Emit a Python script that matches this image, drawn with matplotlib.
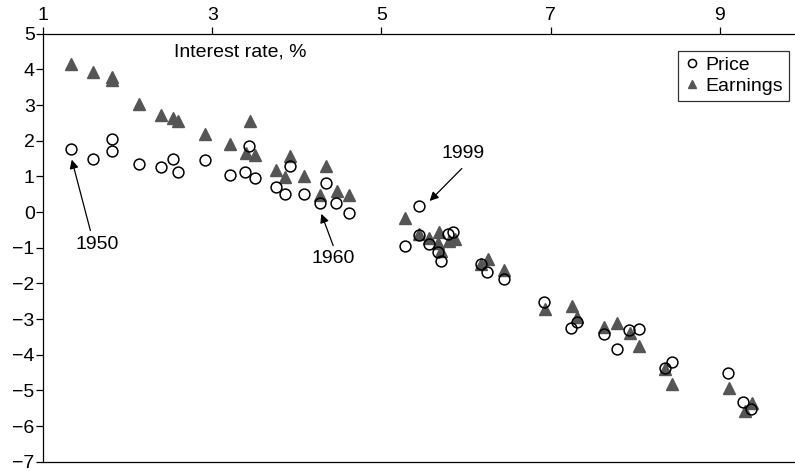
import numpy as np
import matplotlib.pyplot as plt

plt.rcParams['font.family'] = ['Liberation Sans', 'DejaVu Sans']

# interest rate (%) and price / earnings values
price_rate = [1.33, 1.59, 1.82, 1.81, 2.13, 2.40, 2.54, 2.59, 2.91, 3.21, 3.39,
              3.44, 3.50, 3.75, 3.86, 3.92, 4.09, 4.28, 4.35, 4.46, 4.62,
              5.45, 5.28, 5.44, 5.56, 5.67, 5.70, 5.79, 5.85, 6.18, 6.25, 6.45,
              6.92, 7.31, 7.24, 7.63, 7.78, 7.93, 8.05, 8.35, 8.43, 9.10, 9.28, 9.37]
price = [1.78, 1.49, 2.04, 1.72, 1.35, 1.26, 1.49, 1.13, 1.46, 1.04, 1.12,
         1.86, 0.95, 0.71, 0.50, 1.29, 0.52, 0.24, 0.81, 0.26, -0.02,
         0.17, -0.96, -0.64, -0.89, -1.12, -1.38, -0.61, -0.55, -1.45, -1.67, -1.87,
         -2.53, -3.07, -3.24, -3.41, -3.84, -3.31, -3.27, -4.37, -4.21, -4.51, -5.32, -5.52]

earn_rate = [1.33, 1.59, 1.82, 1.82, 2.13, 2.40, 2.54, 2.59, 2.92, 3.21, 3.45,
             3.40, 3.51, 3.75, 3.86, 3.92, 4.09, 4.28, 4.35, 4.47, 4.62,
             5.28, 5.44, 5.56, 5.68, 5.67, 5.70, 5.80, 5.87, 6.18, 6.26, 6.45,
             6.93, 7.25, 7.31, 7.63, 7.79, 7.94, 8.05, 8.35, 8.43, 9.11, 9.38, 9.30]
earnings = [4.15, 3.93, 3.79, 3.70, 3.02, 2.71, 2.65, 2.54, 2.19, 1.90, 2.56,
            1.66, 1.61, 1.17, 0.97, 1.57, 1.01, 0.47, 1.29, 0.60, 0.48,
            -0.16, -0.61, -0.72, -0.56, -0.88, -1.10, -0.80, -0.75, -1.47, -1.33, -1.63,
            -2.73, -2.64, -2.95, -3.23, -3.10, -3.39, -3.76, -4.40, -4.83, -4.92, -5.34, -5.57]

fig = plt.figure(figsize=(7.95, 4.71), dpi=100)
ax = fig.add_axes([0.0541, 0.0197, 0.9459, 0.9087])

ax.plot(earn_rate, earnings, linestyle='none', marker='^', markersize=8.5,
        color='#555555', markeredgecolor='#555555', label='Earnings', zorder=2)
ax.plot(price_rate, price, linestyle='none', marker='o', markersize=7.8,
        markerfacecolor='none', markeredgecolor='black', markeredgewidth=1.1,
        label='Price', zorder=3)

ax.set_xlim(1, 9.889)
ax.set_ylim(-7, 5)
ax.set_xticks([1, 3, 5, 7, 9])
ax.set_yticks(np.arange(-7, 6, 1))
ax.xaxis.tick_top()
ax.tick_params(axis='x', direction='out', length=5, width=0.9, labelsize=14, pad=2)
ax.tick_params(axis='y', direction='out', length=5, width=0.9, labelsize=14, pad=1)
ax.spines['right'].set_visible(False)
for s in ['left', 'top', 'bottom']:
    ax.spines[s].set_linewidth(0.9)

ax.text(3.33, 4.49, 'Interest rate, %', ha='center', va='center', fontsize=14)

arrow = dict(arrowstyle='-|>', color='black', lw=0.9, mutation_scale=13,
             shrinkA=0, shrinkB=0)
ax.annotate('', xy=(1.34, 1.47), xytext=(1.56, -0.52), arrowprops=arrow)
ax.text(1.64, -0.91, '1950', ha='center', va='center', fontsize=14)
ax.annotate('', xy=(4.29, -0.05), xytext=(4.43, -0.94), arrowprops=arrow)
ax.text(4.43, -1.31, '1960', ha='center', va='center', fontsize=14)
ax.annotate('', xy=(5.57, 0.31), xytext=(5.95, 1.22), arrowprops=arrow)
ax.text(5.96, 1.64, '1999', ha='center', va='center', fontsize=14)

handles, labels = ax.get_legend_handles_labels()
leg = ax.legend(handles[::-1], labels[::-1], loc='upper right',
                bbox_to_anchor=(0.9915, 0.96), fontsize=14, frameon=True,
                fancybox=False, edgecolor='black', handlelength=0.8,
                handletextpad=0.3, borderpad=0.3, labelspacing=0.15,
                borderaxespad=0, markerscale=0.75)
leg.get_frame().set_linewidth(0.9)

fig.savefig('out.png', dpi=100)
